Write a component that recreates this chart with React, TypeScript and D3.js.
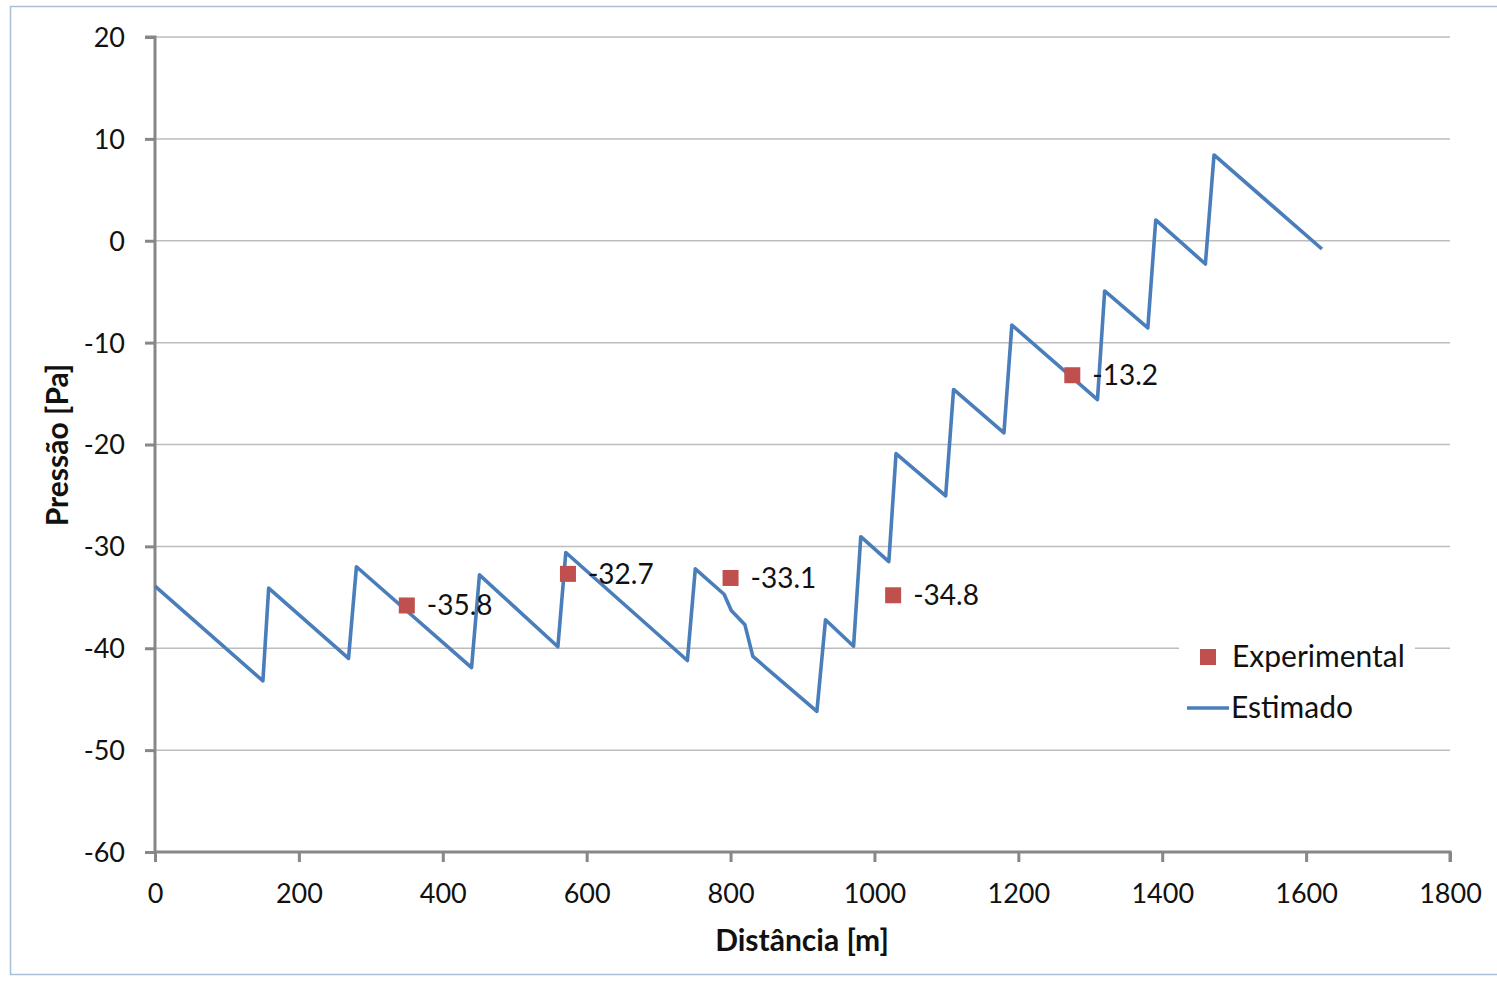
import { useEffect, useRef } from 'react';
import * as d3 from 'd3';

// Estimated pressure profile (distance m, pressure Pa)
const estDist = [0, 150, 158, 269, 280, 440, 451, 560, 571, 740, 751, 791, 801, 820, 831, 920, 932, 971, 981, 1020, 1030, 1099, 1110, 1180, 1191, 1310, 1320, 1380, 1391, 1460, 1472, 1622];
const estPress = [-33.9, -43.2, -34.1, -41.0, -32.0, -41.9, -32.8, -39.85, -30.6, -41.2, -32.2, -34.7, -36.3, -37.7, -40.8, -46.2, -37.2, -39.8, -29.05, -31.5, -20.9, -25.05, -14.6, -18.85, -8.27, -15.6, -4.93, -8.56, 2.04, -2.28, 8.42, -0.81];

// Experimental measurements
const expDist = [350, 574, 800, 1026, 1275];
const expPress = [-35.8, -32.7, -33.1, -34.8, -13.2];

const xTicks = [0, 200, 400, 600, 800, 1000, 1200, 1400, 1600, 1800];
const yTicks = [20, 10, 0, -10, -20, -30, -40, -50, -60];

const W = 1497;
const H = 981;
const FONT = 'Lato, "Open Sans", sans-serif';

const App = () => {
  const svgRef = useRef<SVGSVGElement | null>(null);

  useEffect(() => {
    const svg = d3.select(svgRef.current);
    svg.selectAll('*').remove();

    const x = d3.scaleLinear().domain([0, 1800]).range([155, 1450]);
    const y = d3.scaleLinear().domain([-60, 20]).range([852, 37]);

    // outer frame
    svg.append('rect')
      .attr('x', 10.5).attr('y', 6.5)
      .attr('width', W).attr('height', 968)
      .attr('fill', 'white')
      .attr('stroke', '#a9bfd6').attr('stroke-width', 1.5);

    // gridlines
    svg.append('g')
      .selectAll('line')
      .data(yTicks.filter(d => d !== -60))
      .enter()
      .append('line')
      .attr('x1', x(0)).attr('x2', x(1800))
      .attr('y1', d => y(d)).attr('y2', d => y(d))
      .attr('stroke', '#bdbdbd').attr('stroke-width', 1.5);

    // left axis
    const yAxis = svg.append('g')
      .attr('transform', `translate(${x(0)},0)`)
      .call(d3.axisLeft(y).tickValues(yTicks).tickSize(10).tickPadding(20).tickFormat(d => String(d)));
    yAxis.select('.domain').attr('stroke', '#878787').attr('stroke-width', 3).attr('d', `M-10,${y(20)}H0V${y(-60)}`);
    yAxis.selectAll('.tick line').attr('stroke', '#878787').attr('stroke-width', 3);
    yAxis.selectAll('.tick text')
      .style('font-family', FONT).style('font-size', '27px').attr('fill', '#111')
      .attr('dy', '0.35em');

    // bottom axis
    const xAxis = svg.append('g')
      .attr('transform', `translate(0,${y(-60)})`)
      .call(d3.axisBottom(x).tickValues(xTicks).tickSize(10).tickPadding(22).tickFormat(d => String(d)));
    xAxis.select('.domain').attr('stroke', '#878787').attr('stroke-width', 3).attr('d', `M${x(0)},0H${x(1800)}V10`);
    xAxis.selectAll('.tick line').attr('stroke', '#878787').attr('stroke-width', 3);
    xAxis.selectAll('.tick text')
      .style('font-family', FONT).style('font-size', '27px').attr('fill', '#111');

    // estimated line
    const pts = estDist.map((d, i) => [d, estPress[i]] as [number, number]);
    svg.append('path')
      .datum(pts)
      .attr('fill', 'none')
      .attr('stroke', '#4a7ebb')
      .attr('stroke-width', 3.6)
      .attr('stroke-linejoin', 'round')
      .attr('d', d3.line<[number, number]>().x(d => x(d[0])).y(d => y(d[1])));

    // experimental points + labels
    const exp = expDist.map((d, i) => ({ d, p: expPress[i] }));
    svg.append('g')
      .selectAll('rect')
      .data(exp)
      .enter()
      .append('rect')
      .attr('x', e => x(e.d) - 8).attr('y', e => y(e.p) - 8)
      .attr('width', 16).attr('height', 16)
      .attr('fill', '#c0504d');
    svg.append('g')
      .selectAll('text')
      .data(exp)
      .enter()
      .append('text')
      .attr('x', e => x(e.d) + 20).attr('y', e => y(e.p) + 10)
      .style('font-family', FONT).style('font-size', '28px').attr('fill', '#111')
      .text(e => e.p.toFixed(1));

    // legend
    const lg = svg.append('g');
    lg.append('rect').attr('x', 1179).attr('y', 632).attr('width', 236).attr('height', 100).attr('fill', 'white');
    lg.append('rect').attr('x', 1200).attr('y', 649).attr('width', 16).attr('height', 16).attr('fill', '#c0504d');
    lg.append('text').attr('x', 1232).attr('y', 667)
      .style('font-family', FONT).style('font-size', '30px').attr('fill', '#111').text('Experimental');
    lg.append('line').attr('x1', 1187).attr('x2', 1229).attr('y1', 708).attr('y2', 708)
      .attr('stroke', '#4a7ebb').attr('stroke-width', 3.6);
    lg.append('text').attr('x', 1231).attr('y', 718)
      .style('font-family', FONT).style('font-size', '30px').attr('fill', '#111').text('Estimado');

    // axis titles
    svg.append('text')
      .attr('x', 802).attr('y', 951)
      .attr('text-anchor', 'middle')
      .style('font-family', FONT).style('font-size', '30px').style('font-weight', 'bold').attr('fill', '#111')
      .text('Distância [m]');
    svg.append('text')
      .attr('transform', `translate(68,445) rotate(-90)`)
      .attr('text-anchor', 'middle')
      .style('font-family', FONT).style('font-size', '30px').style('font-weight', 'bold').attr('fill', '#111')
      .text('Pressão [Pa]');
  }, []);

  return (
    <svg ref={svgRef} width={W} height={H}
      style={{ position: 'absolute', left: 0, top: 0, background: 'white' }} />
  );
};

export default App;
